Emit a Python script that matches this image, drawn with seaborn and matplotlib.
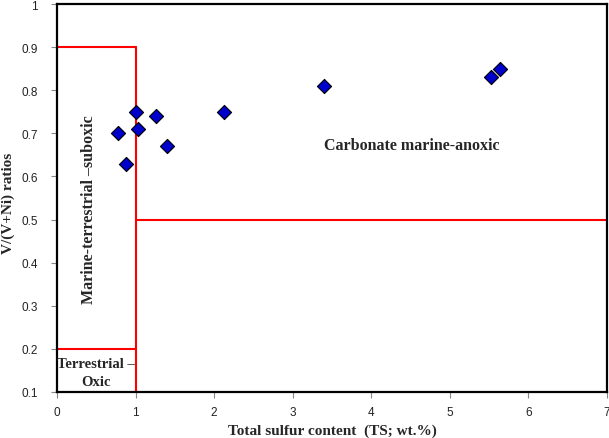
import matplotlib
matplotlib.use("Agg")
import matplotlib.pyplot as plt
import seaborn as sns
import pandas as pd

# Total sulfur (TS, wt.%) vs V/(V+Ni)
ts = [0.78, 1.00, 1.03, 0.88, 1.26, 1.40, 2.13, 3.40, 5.52, 5.64]
vvni = [0.70, 0.75, 0.71, 0.63, 0.74, 0.67, 0.75, 0.81, 0.83, 0.85]

x_ticks = [0, 1, 2, 3, 4, 5, 6, 7]
y_ticks = [0.1, 0.2, 0.3, 0.4, 0.5, 0.6, 0.7, 0.8, 0.9, 1.0]
y_tick_labels = ['0.1', '0.2', '0.3', '0.4', '0.5', '0.6', '0.7', '0.8', '0.9', '1']

df = pd.DataFrame({'TS': ts, 'V/(V+Ni)': vvni})

sns.set_style("white")
plt.rcParams['font.family'] = ['Liberation Sans', 'DejaVu Sans']

fig = plt.figure(figsize=(6.09, 4.39), dpi=100)
ax = fig.add_axes([0.0936, 0.1048, 0.9031, 0.8838])

# zone boundaries
red = '#ff0000'
ax.plot([1, 1], [0.1, 0.9], color=red, lw=1.5, zorder=2)
ax.plot([0, 1], [0.9, 0.9], color=red, lw=1.5, zorder=2)
ax.plot([0, 1], [0.2, 0.2], color=red, lw=1.5, zorder=2)
ax.plot([1, 7], [0.5, 0.5], color=red, lw=1.5, zorder=2)

sns.scatterplot(data=df, x='TS', y='V/(V+Ni)', marker='D', s=52,
                color='#0000cc', edgecolor='black', linewidth=0.8, ax=ax, zorder=3)

ax.set_xlim(0, 7)
ax.set_ylim(0.1, 1.0)
ax.set_xticks(x_ticks)
ax.set_yticks(y_ticks)
ax.set_yticklabels(y_tick_labels)
ax.tick_params(direction='out', length=4, width=0.8, color='#888888',
               labelsize=8.5, labelcolor='#222222', bottom=True, left=True)
ax.tick_params(axis='x', pad=6)
ax.tick_params(axis='y', pad=10)

for s in ax.spines.values():
    s.set_color('black')
    s.set_linewidth(1.6)

serif = dict(family='Liberation Serif', fontweight='bold')
ax.set_xlabel('Total sulfur content  (TS; wt.%)', fontsize=11, va='center', **serif)
ax.set_ylabel('V/(V+Ni) ratios', fontsize=11, va='center', **serif)
ax.xaxis.set_label_coords(0.5, -0.098)
ax.yaxis.set_label_coords(-0.089, 0.49)

ax.text(4.52, 0.672, 'Carbonate marine-anoxic', ha='center', va='center', fontsize=11.5, **serif)
ax.text(0.41, 0.525, 'Marine-terrestrial \u2013suboxic', rotation=90, ha='center', va='center',
        fontsize=11.5, **serif)
ax.text(0.5, 0.146, 'Terrestrial \u2013\nOxic', ha='center', va='center', fontsize=10.5,
        linespacing=1.5, **serif)

fig.savefig('out.png', dpi=100)
